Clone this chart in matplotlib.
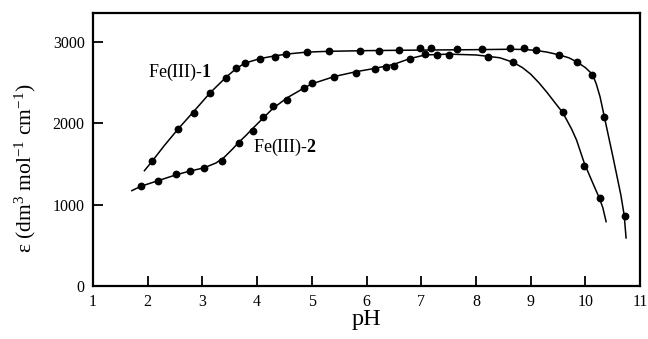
import matplotlib
matplotlib.use("Agg")
import matplotlib.pyplot as plt

plt.rcParams['font.family'] = ['Liberation Serif', 'DejaVu Serif']
plt.rcParams['mathtext.fontset'] = 'custom'
plt.rcParams['mathtext.rm'] = 'Liberation Serif'
plt.rcParams['mathtext.it'] = 'Liberation Serif:italic'
plt.rcParams['mathtext.bf'] = 'Liberation Serif:bold'

# Measured points
ph1 = [2.08, 2.56, 2.84, 3.14, 3.43, 3.62, 3.78, 4.05, 4.33, 4.52, 4.91, 5.32, 5.89, 6.23,
       6.60, 6.97, 7.18, 7.65, 8.11, 8.62, 8.88, 9.10, 9.51, 9.85, 10.13, 10.35, 10.72]
eps1 = [1537, 1923, 2127, 2368, 2548, 2679, 2736, 2781, 2810, 2847, 2871, 2887, 2880, 2880,
        2896, 2920, 2916, 2904, 2908, 2916, 2920, 2896, 2838, 2752, 2595, 2077, 859]

ph2 = [1.88, 2.18, 2.52, 2.77, 3.03, 3.36, 3.66, 3.93, 4.11, 4.29, 4.55, 4.86, 5.00, 5.41,
       5.81, 6.15, 6.35, 6.50, 6.79, 7.07, 7.28, 7.51, 8.22, 8.68, 9.59, 9.98, 10.26]
eps2 = [1227, 1292, 1374, 1415, 1444, 1534, 1759, 1902, 2074, 2205, 2282, 2429, 2491, 2560,
        2613, 2666, 2687, 2703, 2789, 2847, 2834, 2834, 2814, 2745, 2135, 1476, 1076]

# Fitted curves
fit1_ph = [1.94, 2.08, 2.3, 2.56, 2.84, 3.14, 3.43, 3.62, 3.78, 4.05, 4.33, 4.6, 4.91, 5.32,
           6.0, 7.0, 8.0, 8.62, 8.9, 9.1, 9.3, 9.51, 9.7, 9.84, 10.0, 10.13, 10.2, 10.27,
           10.34, 10.42, 10.5, 10.57, 10.65, 10.71, 10.745]
fit1_eps = [1415, 1530, 1720, 1930, 2140, 2370, 2560, 2670, 2735, 2790, 2825, 2850, 2870, 2880,
            2888, 2895, 2900, 2905, 2902, 2890, 2870, 2838, 2800, 2752, 2680, 2598, 2480, 2320,
            2100, 1850, 1600, 1375, 1115, 870, 590]

fit2_ph = [1.71, 1.88, 2.18, 2.52, 2.77, 3.03, 3.25, 3.4, 3.55, 3.66, 3.8, 3.93, 4.11, 4.29,
           4.55, 4.86, 5.0, 5.41, 5.81, 6.15, 6.5, 6.79, 7.07, 7.5, 8.0, 8.22, 8.44, 8.68, 8.85,
           9.0, 9.15, 9.3, 9.45, 9.59, 9.75, 9.84, 9.98, 10.1, 10.2, 10.26, 10.32, 10.38]
fit2_eps = [1170, 1225, 1290, 1365, 1410, 1450, 1510, 1580, 1680, 1760, 1850, 1940, 2060, 2180,
            2310, 2430, 2480, 2570, 2630, 2670, 2720, 2790, 2835, 2845, 2835, 2818, 2800, 2745,
            2680, 2600, 2495, 2375, 2245, 2125, 1925, 1790, 1510, 1320, 1165, 1075, 960, 790]

xticks = [1, 2, 3, 4, 5, 6, 7, 8, 9, 10, 11]
yticks = [0, 1000, 2000, 3000]

fig = plt.figure(figsize=(6.48, 3.39), dpi=100)
ax = fig.add_axes([0.1435, 0.1563, 0.8442, 0.8054])

ax.plot(fit1_ph, fit1_eps, color='black', lw=1.1, solid_joinstyle='round')
ax.plot(fit2_ph, fit2_eps, color='black', lw=1.1, solid_joinstyle='round')
ax.plot(ph1, eps1, 'o', color='black', ms=4.6)
ax.plot(ph2, eps2, 'o', color='black', ms=4.6)

ax.set_xlim(1, 11)
ax.set_ylim(0, 3350)
ax.set_xticks(xticks)
ax.set_yticks(yticks)
ax.tick_params(direction='in', length=7.5, width=1.3, labelsize=11.5, pad=6)
for s in ax.spines.values():
    s.set_linewidth(1.6)

ax.set_xlabel('pH', fontsize=17.5, labelpad=-1)
ax.set_ylabel('ε (dm$^3$ mol$^{-1}$ cm$^{-1}$)', fontsize=15.5)
ax.yaxis.set_label_coords(-0.10, 0.43)

ax.text(2.0, 2626, r'Fe(III)-$\mathbf{1}$', fontsize=13, va='center', ha='left')
ax.text(3.93, 1705, r'Fe(III)-$\mathbf{2}$', fontsize=13, va='center', ha='left')

fig.savefig('out.png', dpi=100)
